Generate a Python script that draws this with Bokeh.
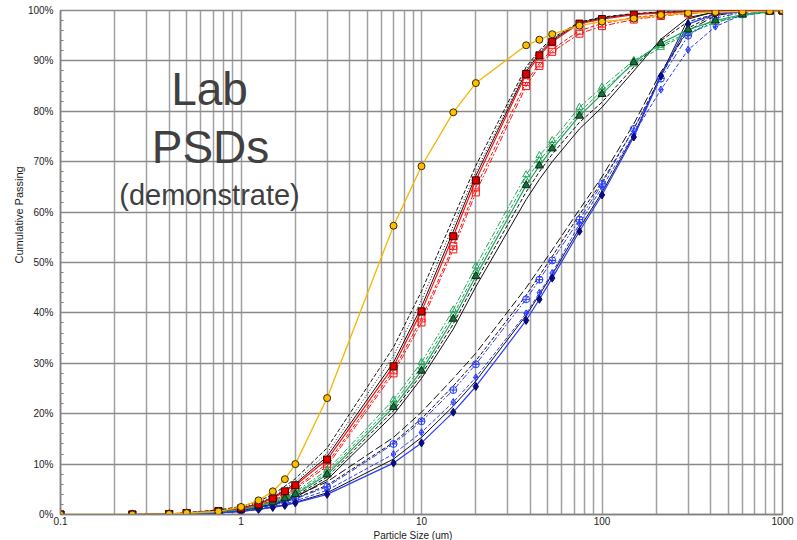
from bokeh.plotting import figure
from bokeh.models import FixedTicker, CustomJSTickFormatter, Label, Title
from bokeh.embed import file_html
from bokeh.resources import INLINE

# ---------------- data ----------------
sizes = [0.1, 0.25, 0.4, 0.5, 0.75, 1.0, 1.25, 1.5, 1.75, 2.0, 3.0, 7.0, 10, 15, 20,
         38, 45, 53, 75, 100, 150, 212, 300, 425, 600, 850, 1000]

gold = [0, 0, 0.1, 0.3, 0.6, 1.5, 2.8, 4.6, 7.0, 10.0, 23.1, 57.3, 69.1, 79.8, 85.6,
        93.1, 94.2, 95.3, 97.0, 97.8, 98.4, 99.1, 99.5, 99.7, 99.8, 99.9, 100]

red_filled = [0, 0, 0.1, 0.3, 0.7, 1.2, 2.0, 3.2, 4.6, 5.8, 10.9, 29.4, 40.3, 55.2, 66.3,
              87.4, 91.1, 93.8, 97.4, 98.3, 99.2, 99.5, 99.8, 99.9, 100, 100, 100]
red_a = [0, 0, 0.1, 0.3, 0.6, 1.1, 1.8, 2.9, 4.2, 5.3, 10.1, 28.6, 38.9, 53.3, 64.9,
         85.8, 89.5, 92.3, 96.0, 97.4, 98.6, 99.2, 99.6, 99.8, 99.9, 100, 100]
red_b = [0, 0, 0.1, 0.2, 0.6, 1.0, 1.7, 2.7, 3.9, 5.0, 9.6, 28.0, 38.1, 52.6, 63.9,
         85.0, 89.0, 91.8, 95.4, 96.9, 98.2, 98.9, 99.4, 99.7, 99.9, 100, 100]
red_fit_solid = [0, 0, 0.1, 0.3, 0.8, 1.3, 2.1, 3.4, 4.8, 6.1, 11.5, 30.2, 41.2, 56.2, 67.2,
                 87.9, 91.5, 94.1, 97.5, 98.5, 99.3, 99.6, 99.8, 99.9, 100, 100, 100]
red_fit_dotted = [0, 0, 0.1, 0.3, 0.8, 1.4, 2.3, 3.6, 5.1, 6.5, 12.2, 31.5, 42.5, 57.3, 68.0,
                  88.3, 91.8, 94.3, 97.6, 98.6, 99.3, 99.6, 99.8, 99.9, 100, 100, 100]
red_fit_dashed = [0, 0, 0.1, 0.4, 0.9, 1.6, 2.6, 4.0, 5.6, 7.1, 13.2, 33.2, 44.3, 58.8, 69.2,
                  88.8, 92.1, 94.5, 97.7, 98.7, 99.4, 99.7, 99.8, 99.9, 100, 100, 100]

green_filled = [0, 0, 0.05, 0.2, 0.5, 1.0, 1.6, 2.4, 3.2, 4.0, 7.9, 21.3, 28.5, 38.8, 47.3,
                65.3, 69.2, 72.6, 79.1, 83.4, 89.7, 93.5, 96.2, 98.0, 99.2, 99.8, 100]
green_a = [0, 0, 0.05, 0.2, 0.5, 1.0, 1.7, 2.5, 3.4, 4.2, 8.3, 22.0, 29.3, 39.6, 48.2,
           66.3, 70.2, 73.3, 79.8, 84.1, 89.4, 92.7, 95.4, 97.6, 99.0, 99.7, 100]
green_b = [0, 0, 0.05, 0.2, 0.5, 1.1, 1.8, 2.6, 3.6, 4.5, 8.8, 22.8, 30.2, 40.6, 49.3,
           67.4, 71.2, 74.2, 80.8, 84.8, 90.1, 93.1, 95.6, 97.7, 99.0, 99.7, 100]
green_fit_solid = [0, 0, 0.05, 0.2, 0.4, 0.8, 1.3, 2.0, 2.7, 3.4, 6.9, 19.8, 27.0, 36.8, 45.2,
                   62.5, 66.5, 70.0, 76.5, 80.8, 88.0, 94.3, 98.6, 99.7, 100, 100, 100]
green_fit_dashed = [0, 0, 0.05, 0.2, 0.5, 0.9, 1.4, 2.2, 2.9, 3.7, 7.4, 20.6, 27.8, 37.8, 46.3,
                    64.0, 68.0, 71.5, 77.8, 81.8, 88.8, 94.0, 97.8, 99.3, 99.8, 100, 100]

blue_filled = [0, 0, 0, 0.1, 0.3, 0.6, 1.0, 1.4, 1.8, 2.3, 4.0, 10.2, 14.2, 20.3, 25.4,
               38.5, 42.7, 46.9, 56.2, 63.4, 74.9, 87.0, 97.3, 99.3, 99.8, 100, 100]
blue_a = [0, 0, 0, 0.1, 0.3, 0.7, 1.1, 1.6, 2.1, 2.7, 4.8, 12.0, 16.3, 22.3, 27.2,
          39.9, 44.0, 47.9, 57.7, 64.9, 75.5, 84.3, 92.2, 96.8, 99.2, 99.8, 100]
blue_b = [0, 0, 0, 0.1, 0.4, 0.8, 1.3, 1.9, 2.5, 3.1, 5.5, 14.0, 18.5, 24.7, 29.8,
          42.7, 46.6, 50.4, 58.5, 65.6, 76.5, 86.5, 95.0, 98.5, 99.6, 99.9, 100]
blue_fit_solid = [0, 0, 0, 0.1, 0.3, 0.6, 1.0, 1.5, 1.9, 2.4, 4.3, 11.0, 15.3, 21.5, 26.5,
                  39.5, 43.6, 47.6, 56.8, 63.9, 75.3, 87.2, 98.3, 99.8, 100, 100, 100]
blue_fit_dashed = [0, 0, 0, 0.1, 0.4, 0.8, 1.3, 1.9, 2.5, 3.2, 5.8, 14.3, 19.0, 25.5, 30.5,
                   43.5, 47.4, 51.2, 59.5, 66.0, 76.5, 87.0, 96.5, 99.3, 99.9, 100, 100]
blue_fit_longdash = [0, 0, 0, 0.2, 0.5, 0.9, 1.5, 2.2, 2.9, 3.6, 6.5, 15.3, 20.3, 27.0, 32.0,
                     45.0, 48.8, 52.5, 60.5, 67.0, 77.5, 87.8, 96.0, 99.0, 99.8, 100, 100]

x_ticks = [0.1, 1, 10, 100, 1000]
x_minor = [0.2, 0.3, 0.4, 0.5, 0.6, 0.7, 0.8, 0.9,
           2, 3, 4, 5, 6, 7, 8, 9,
           20, 30, 40, 50, 60, 70, 80, 90,
           200, 300, 400, 500, 600, 700, 800, 900]
y_ticks = [0, 10, 20, 30, 40, 50, 60, 70, 80, 90, 100]
y_minor = [v for v in range(0, 101, 2) if v % 10 != 0]

# ---------------- figure ----------------
FONT = "Liberation Sans"
p = figure(width=797, height=540, x_axis_type="log", x_range=(0.1, 1000), y_range=(0, 100),
           output_backend="svg", toolbar_location=None,
           min_border_left=60, min_border_right=15, min_border_top=10, min_border_bottom=26)
p.background_fill_color = "white"
p.border_fill_color = "white"
p.outline_line_color = "#8a8a8a"
p.outline_line_width = 1.5

p.xaxis.ticker = FixedTicker(ticks=x_ticks, minor_ticks=x_minor)
p.yaxis.ticker = FixedTicker(ticks=y_ticks, minor_ticks=y_minor)
p.xaxis.formatter = CustomJSTickFormatter(code="return tick.toString();")
p.yaxis.formatter = CustomJSTickFormatter(code="return tick + '%';")

for ax in (p.xaxis, p.yaxis):
    ax.axis_line_color = "#808080"
    ax.axis_line_width = 1.5
    ax.major_tick_in = 0
    ax.major_tick_out = 0
    ax.major_label_text_font = FONT
    ax.major_label_text_font_size = "10px"
    ax.major_label_text_color = "#222222"
p.xaxis.minor_tick_in = 0
p.xaxis.minor_tick_out = 0
p.yaxis.minor_tick_in = 3
p.yaxis.minor_tick_out = 0
p.yaxis.minor_tick_line_color = "#808080"
p.xaxis.major_label_standoff = 2
p.yaxis.major_label_standoff = 7

p.xgrid.grid_line_color = "#a0a0a0"
p.xgrid.grid_line_width = 1.5
p.xgrid.minor_grid_line_color = "#a0a0a0"
p.xgrid.minor_grid_line_width = 1.5
p.ygrid.grid_line_color = "#8a8a8a"
p.ygrid.grid_line_width = 1.5

# axis titles as side titles
p.add_layout(Title(text="Cumulative Passing", align="left", offset=251, standoff=0,
                   text_font=FONT, text_font_size="11px", text_font_style="normal",
                   text_color="#222222"), "left")
p.add_layout(Title(text="Particle Size (um)", align="left", offset=313, standoff=0,
                   text_font=FONT, text_font_size="10px", text_font_style="normal",
                   text_color="#222222"), "below")

# ---------------- series ----------------
BLACK = "#111111"
RED = "#ff1010"
GREEN = "#1fa85a"
BLUE = "#2a3cff"
GOLD = "#f2b705"

# model fit lines (no markers)
for ys, dash in ((red_fit_dashed, "4 2"), (red_fit_dotted, "1 2"), (red_fit_solid, "solid"),
                 (green_fit_dashed, "4 2"), (green_fit_solid, "solid"),
                 (blue_fit_longdash, "8 3"), (blue_fit_dashed, "4 2"), (blue_fit_solid, "solid")):
    p.line(sizes, ys, line_color=BLACK, line_width=1, line_dash=dash)

# hollow measured series
for ys, col, dash, mk in ((red_a, RED, "4 2", "square"), (red_b, RED, "6 2 2 2", "square"),
                          (green_a, GREEN, "4 2", "triangle"), (green_b, GREEN, "6 2 2 2", "triangle"),
                          (blue_a, BLUE, "4 2", "diamond_cross"), (blue_b, BLUE, "6 2 2 2", "circle_cross")):
    p.line(sizes, ys, line_color=col, line_width=1, line_dash=dash)
    p.scatter(sizes, ys, marker=mk, size=7, fill_color=None, line_color=col, line_width=1)

# filled measured series
p.line(sizes, blue_filled, line_color=BLUE, line_width=1.2)
p.scatter(sizes, blue_filled, marker="diamond", size=8, fill_color="#0a0a90", line_color="#0a0a60")
p.line(sizes, green_filled, line_color=GREEN, line_width=1.2)
p.scatter(sizes, green_filled, marker="triangle", size=8, fill_color="#17703a", line_color="#0a2a10")
p.line(sizes, red_filled, line_color=RED, line_width=1.2)
p.scatter(sizes, red_filled, marker="square", size=7, fill_color="#e00000", line_color="#300000")
p.line(sizes, gold, line_color=GOLD, line_width=1.3)
p.scatter(sizes, gold, marker="circle", size=7, fill_color="#ffbf00", line_color="#3a2a00")

# ---------------- texts ----------------
TXT = "#404040"
p.add_layout(Label(x=149, y=426, x_units="screen", y_units="screen", text="Lab",
                   text_font=FONT, text_font_size="46px", text_color=TXT,
                   text_align="center", text_baseline="alphabetic"))
p.add_layout(Label(x=150, y=368, x_units="screen", y_units="screen", text="PSDs",
                   text_font=FONT, text_font_size="46px", text_color=TXT,
                   text_align="center", text_baseline="alphabetic"))
p.add_layout(Label(x=149, y=320, x_units="screen", y_units="screen", text="(demonstrate)",
                   text_font=FONT, text_font_size="29px", text_color=TXT,
                   text_align="center", text_baseline="alphabetic"))

open("out.html", "w").write(file_html(p, INLINE))
